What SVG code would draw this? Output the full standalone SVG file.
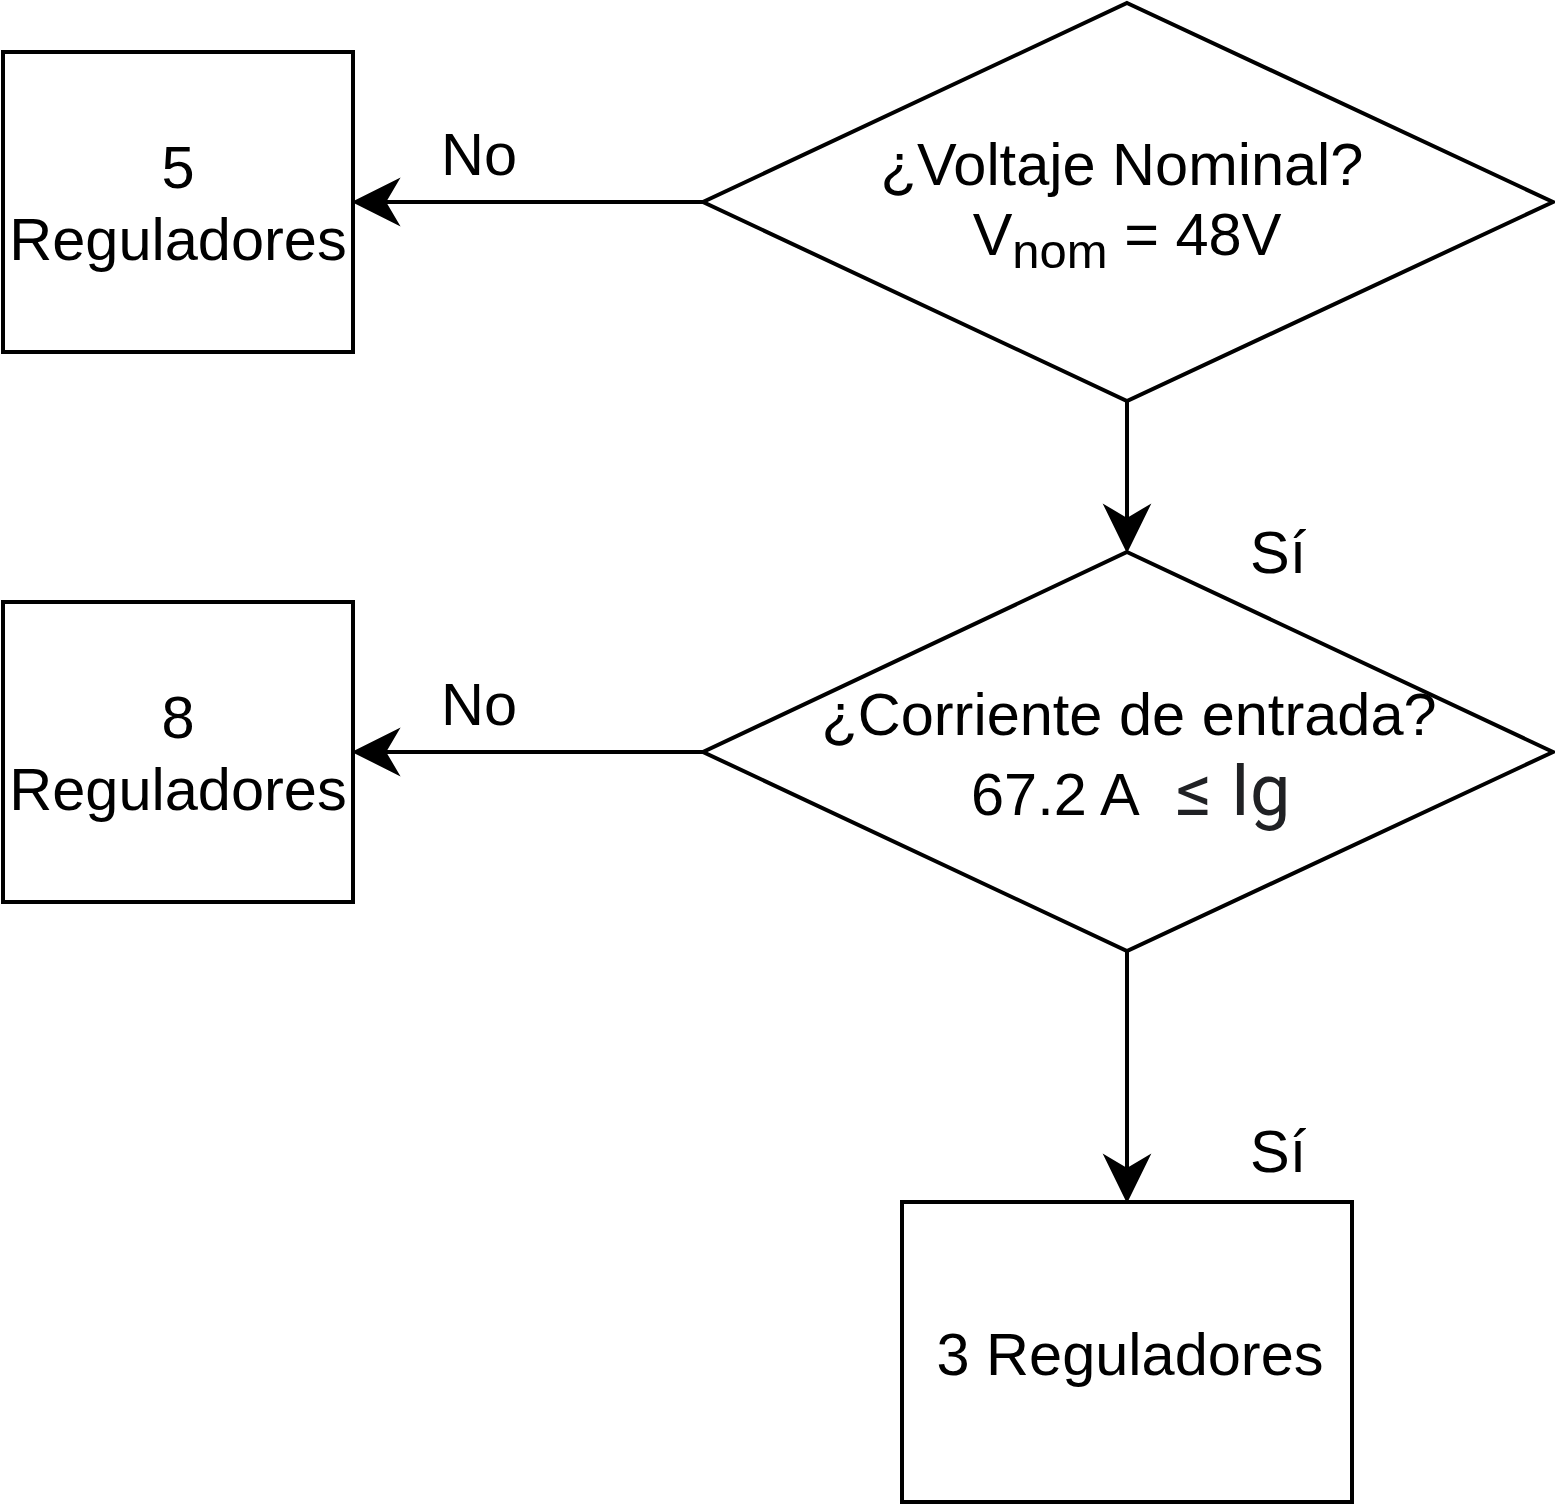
<svg xmlns="http://www.w3.org/2000/svg" width="1555" height="1505" viewBox="0 0 1555 1505">
<style>
.shape{fill:#fff;stroke:#000;stroke-width:4}
.edge{fill:none;stroke:#000;stroke-width:4}
.head{fill:#000;stroke:#000;stroke-width:2;stroke-linejoin:miter}
text{font-family:"Liberation Sans",Arial,sans-serif;font-size:59.5px;fill:#000}
.c{text-anchor:middle}
</style>
<rect width="1555" height="1505" fill="#fff"/>
<g id="connectors">
<line class="edge" x1="703" y1="202" x2="385" y2="202"/>
<polygon class="head" points="354,202 398,180 385,202 398,224"/>
<line class="edge" x1="703" y1="752" x2="385" y2="752"/>
<polygon class="head" points="354,752 398,730 385,752 398,774"/>
<line class="edge" x1="1127" y1="401" x2="1127" y2="520"/>
<polygon class="head" points="1127,551 1105,506 1127,519 1149,506"/>
<line class="edge" x1="1127" y1="951" x2="1127" y2="1170"/>
<polygon class="head" points="1127,1201 1105,1156 1127,1169 1149,1156"/>
<text x="441" y="175">No</text>
<text x="441" y="725">No</text>
<text x="1250" y="573">Sí</text>
<text x="1250" y="1172">Sí</text>
</g>
<g id="node-voltaje">
<polygon class="shape" points="1127,3 1553,202 1127,401 703,202"/>
<text class="c" x="1122" y="185">¿Voltaje Nominal?</text>
<text class="c" x="1127" y="255">V<tspan font-size="49" dy="13">nom</tspan><tspan dy="-13"> = 48V</tspan></text>
</g>
<g id="node-5">
<rect class="shape" x="3" y="52" width="350" height="300"/>
<text class="c" x="178" y="188">5</text>
<text class="c" x="178" y="260">Reguladores</text>
</g>
<g id="node-corriente">
<polygon class="shape" points="1127,552 1553,752 1127,951 703,752"/>
<text class="c" x="1129" y="735">¿Corriente de entrada?</text>
<text x="971" y="815">67.2 A</text>
<text x="1176" y="815" style="font-family:Roboto,'Liberation Sans',sans-serif;font-size:72px;fill:#202124">≤ Ig</text>
</g>
<g id="node-8">
<rect class="shape" x="3" y="602" width="350" height="300"/>
<text class="c" x="178" y="738">8</text>
<text class="c" x="178" y="810">Reguladores</text>
</g>
<g id="node-3">
<rect class="shape" x="902" y="1202" width="450" height="300"/>
<text class="c" x="1130" y="1375">3 Reguladores</text>
</g>
</svg>
